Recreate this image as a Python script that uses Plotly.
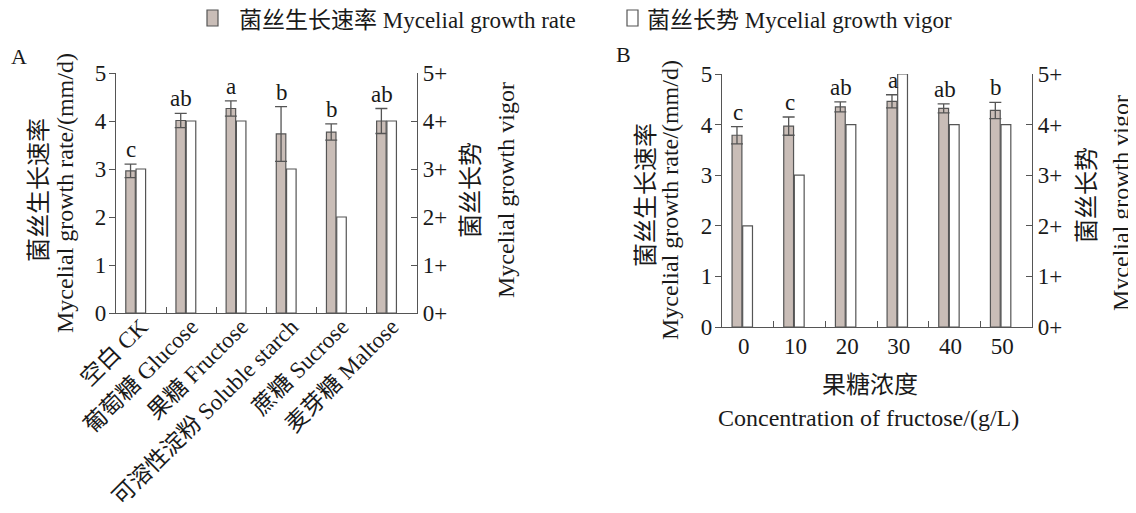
import plotly.graph_objects as go

# ---------------- data ----------------
carbon_sources = ["空白 CK", "葡萄糖 Glucose", "果糖 Fructose",
                  "可溶性淀粉 Soluble starch", "蔗糖 Sucrose", "麦芽糖 Maltose"]
rate_A = [2.96, 4.01, 4.26, 3.73, 3.77, 4.00]
rate_err_A = [0.14, 0.15, 0.16, 0.57, 0.17, 0.26]
vigor_A = [3, 4, 4, 3, 2, 4]
letters_A = ["c", "ab", "a", "b", "b", "ab"]

fructose_conc = ["0", "10", "20", "30", "40", "50"]
rate_B = [3.79, 3.97, 4.35, 4.46, 4.32, 4.28]
rate_err_B = [0.17, 0.18, 0.10, 0.13, 0.09, 0.16]
vigor_B = [2, 3, 4, 5, 4, 4]
letters_B = ["c", "c", "ab", "a", "ab", "b"]

vigor_ticks = [0, 1, 2, 3, 4, 5]
vigor_ticktext = ["0+", "1+", "2+", "3+", "4+", "5+"]

legend_rate = "菌丝生长速率 Mycelial growth rate"
legend_vigor = "菌丝长势 Mycelial growth vigor"

# ---------------- style ----------------
W, H = 1136, 513
OFF = 8  # page body margin
FONT = "Liberation Serif, 'Noto Sans CJK SC', serif"
TXT = "#1a1a1a"
AX = "#555555"
GRAY = "#c9bdb7"
FS = 23

def px(x):
    return (x - OFF) / W

def py(y):
    return 1 - (y - OFF) / H

fig = go.Figure()

def add_panel(cats, rate, err, vigor, letters, xa, ya, ya2):
    fig.add_trace(go.Bar(
        x=cats, y=rate, xaxis=xa, yaxis=ya,
        name=legend_rate, showlegend=False,
        marker=dict(color=GRAY, line=dict(color=AX, width=1.2)),
        width=0.19, offset=-0.305,
        error_y=dict(type="data", array=err, visible=True, color=AX,
                     thickness=1.3, width=6),
    ))
    fig.add_trace(go.Bar(
        x=cats, y=vigor, xaxis=xa, yaxis=ya2,
        name=legend_vigor, showlegend=False,
        marker=dict(color="white", line=dict(color=AX, width=1.2)),
        width=0.19, offset=-0.1,
    ))
    for i, (v, e, t) in enumerate(zip(rate, err, letters)):
        fig.add_annotation(x=i, y=v + e, xref=xa, yref=ya, text=t,
                           showarrow=False, yanchor="bottom", xshift=-10,
                           yshift=0, font=dict(family=FONT, size=FS, color=TXT))

add_panel(carbon_sources, rate_A, rate_err_A, vigor_A, letters_A, "x", "y", "y2")
add_panel(fructose_conc, rate_B, rate_err_B, vigor_B, letters_B, "x2", "y3", "y4")

tickfont = dict(family=FONT, size=FS, color=TXT)

def xaxis_cfg(dom, anchor, angle, size, standoff, shift):
    return dict(domain=dom, anchor=anchor, type="category", tickson="boundaries",
                ticks="inside", ticklen=6, tickcolor=AX, showline=True,
                linecolor=AX, linewidth=1.3,
                tickfont=dict(family=FONT, size=size, color=TXT), tickangle=angle,
                showgrid=False, zeroline=False, range=[-0.5, 5.5],
                automargin=False, ticklabelstandoff=standoff,
                ticklabelshift=shift)

def yl_cfg(dom, anchor):
    return dict(domain=dom, anchor=anchor, range=[0, 5], tickvals=vigor_ticks,
                ticks="outside", ticklen=6, tickcolor=AX, showline=True,
                linecolor=AX, linewidth=1.3, tickfont=tickfont, showgrid=False,
                zeroline=False, automargin=False, ticklabelstandoff=-2)

def yr_cfg(overlay, anchor):
    return dict(overlaying=overlay, anchor=anchor, side="right", range=[0, 5],
                tickvals=vigor_ticks, ticktext=vigor_ticktext, ticks="inside",
                ticklen=6, tickcolor=AX, showline=True, linecolor=AX,
                linewidth=1.3, tickfont=tickfont, showgrid=False, zeroline=False,
                automargin=False)

domA_x = [px(116), px(417)]
domA_y = [py(313), py(73)]
domB_x = [px(722), px(1032)]
domB_y = [py(327), py(74)]

fig.update_layout(
    template="none",
    width=W, height=H,
    margin=dict(l=0, r=0, t=0, b=0, pad=0),
    paper_bgcolor="white", plot_bgcolor="white",
    font=dict(family=FONT, size=FS, color=TXT),
    barmode="overlay",
    showlegend=False,
    xaxis=xaxis_cfg(domA_x, "y", -45, 23, -10, 0),
    yaxis=yl_cfg(domA_y, "x"),
    yaxis2=yr_cfg("y", "x"),
    xaxis2=xaxis_cfg(domB_x, "y3", 0, FS, -2, -4),
    yaxis3=yl_cfg(domB_y, "x2"),
    yaxis4=yr_cfg("y3", "x2"),
)

def title(text, x, y, angle=0, size=24, xanchor="center"):
    fig.add_annotation(text=text, x=px(x), y=py(y), xref="paper", yref="paper",
                       showarrow=False, textangle=angle, xanchor=xanchor,
                       yanchor="middle", font=dict(family=FONT, size=size, color=TXT))

# legend (drawn as boxes + labels)
for x0, fill, label, tx in [(207, GRAY, legend_rate, 237), (627, "white", legend_vigor, 645)]:
    fig.add_shape(type="rect", xref="paper", yref="paper",
                  x0=px(x0), x1=px(x0 + 11), y0=py(26), y1=py(10),
                  fillcolor=fill, line=dict(color=AX, width=1.2))
    title(label, tx, 20, 0, 23, "left")

# panel A titles
title("菌丝生长速率", 39, 190, -90, 24)
title("Mycelial growth rate/(mm/d)", 65, 193, -90, 24)
title("菌丝长势", 471, 190, -90, 24)
title("Mycelial growth vigor", 506, 190, -90, 24)
# panel B titles
title("菌丝生长速率", 646, 195, -90, 24)
title("Mycelial growth rate/(mm/d)", 670, 200, -90, 24)
title("菌丝长势", 1087, 195, -90, 24)
title("Mycelial growth vigor", 1121, 203, -90, 24)
title("果糖浓度", 870, 385, 0, 24)
title("Concentration of fructose/(g/L)", 868, 418, 0, 24)
# panel labels
title("A", 19, 56, 0, 22)
title("B", 623, 55, 0, 22)

fig.write_html("out.html")
